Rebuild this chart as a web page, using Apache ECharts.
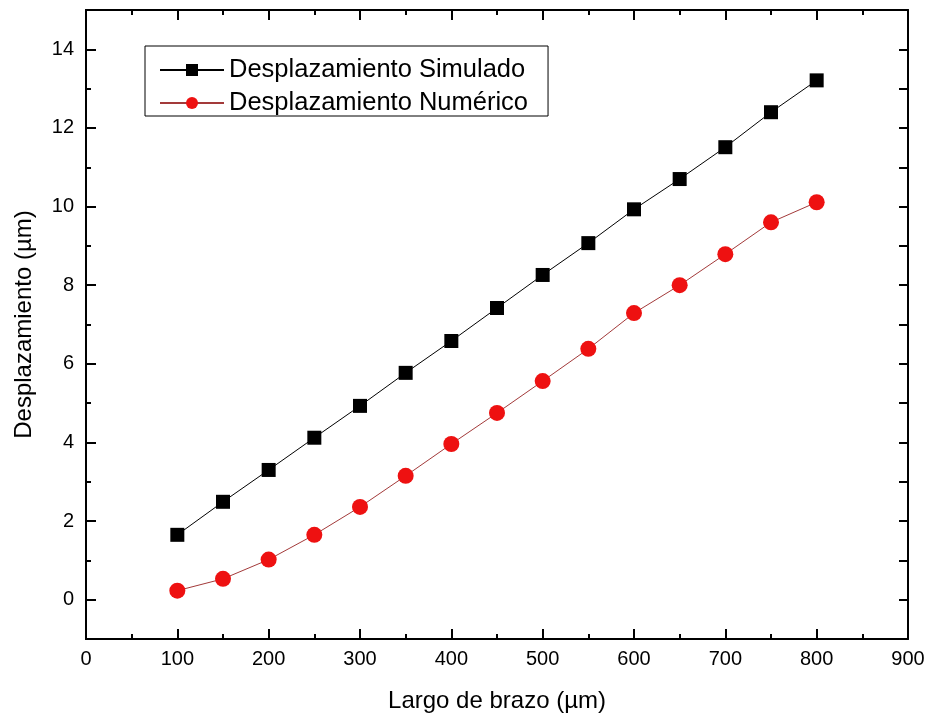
<!DOCTYPE html>
<html><head><meta charset="utf-8">
<script src="https://cdn.jsdelivr.net/npm/echarts@6/dist/echarts.min.js"></script>
<style>html,body{margin:0;padding:0;background:#fff}#c{width:937px;height:717px}</style>
</head><body><div id="c"></div>
<script>
const categories = [100,150,200,250,300,350,400,450,500,550,600,650,700,750,800];
const simulado = [1.65,2.49,3.30,4.12,4.93,5.77,6.58,7.42,8.26,9.07,9.93,10.70,11.51,12.40,13.21];
const numerico = [0.23,0.53,1.02,1.65,2.36,3.15,3.96,4.75,5.56,6.38,7.29,8.00,8.79,9.60,10.11];
const xTicks = [0,100,200,300,400,500,600,700,800,900];
const yTicks = [0,2,4,6,8,10,12,14];
const nameSim = 'Desplazamiento Simulado';
const nameNum = 'Desplazamiento Numérico';
const xTitle = 'Largo de brazo (µm)';
const yTitle = 'Desplazamiento (µm)';

const font = 'Liberation Sans, Arial, sans-serif';
const lineSt = {show:true,onZero:false,lineStyle:{color:'#000',width:2}};
const xCommon = {
  type:'value',min:0,max:900,interval:100,
  axisLine:lineSt,
  axisTick:{show:true,inside:true,length:10,lineStyle:{color:'#000',width:2}},
  minorTick:{show:true,splitNumber:2,length:5,lineStyle:{color:'#000',width:2}},
  splitLine:{show:false}
};
const chart = echarts.init(document.getElementById('c'));
chart.setOption({
  animation:false,
  backgroundColor:'#fff',
  grid:{left:86,right:29,top:10,bottom:78,containLabel:false,outerBoundsMode:'none'},
  legend:{
    orient:'vertical',left:145,top:46,
    borderColor:'#000',borderWidth:1,padding:[11,20,0,14],
    itemWidth:64,itemHeight:15,itemGap:7,
    textStyle:{fontFamily:font,fontSize:25.5,color:'#000'},
    data:[nameSim,nameNum]
  },
  xAxis:[
    Object.assign({},xCommon,{
      name:xTitle,nameLocation:'middle',nameGap:50,
      nameTextStyle:{fontFamily:font,fontSize:24,color:'#000'},
      axisLabel:{fontFamily:font,fontSize:20,color:'#000',margin:10,
        formatter:v=>xTicks.includes(v)?String(v):''}}),
    Object.assign({},xCommon,{position:'top',axisLabel:{show:false}})
  ],
  yAxis:[
    {type:'value',position:'left',min:-1,max:15,interval:1,
      name:yTitle,nameLocation:'middle',nameGap:50,
      nameTextStyle:{fontFamily:font,fontSize:24,color:'#000'},
      axisLine:lineSt,splitLine:{show:false},
      axisTick:{show:true,inside:true,length:10,customValues:yTicks,lineStyle:{color:'#000',width:2}},
      axisLabel:{fontFamily:font,fontSize:20,color:'#000',margin:12,customValues:yTicks}},
    {type:'value',position:'left',min:-1,max:15,interval:1,
      axisLine:lineSt,splitLine:{show:false},
      axisTick:{show:true,inside:true,length:5,lineStyle:{color:'#000',width:2}},
      axisLabel:{show:false}},
    {type:'value',position:'right',min:-1,max:15,interval:1,
      axisLine:lineSt,splitLine:{show:false},
      axisTick:{show:true,inside:true,length:9,lineStyle:{color:'#000',width:2}},
      axisLabel:{show:false}}
  ],
  series:[
    {name:nameSim,type:'line',xAxisIndex:0,yAxisIndex:0,
      data:categories.map((x,i)=>[x,simulado[i]]),
      symbol:'rect',symbolSize:14,
      itemStyle:{color:'#000'},lineStyle:{color:'#000',width:1}},
    {name:nameNum,type:'line',xAxisIndex:0,yAxisIndex:0,
      data:categories.map((x,i)=>[x,numerico[i]]),
      symbol:'circle',symbolSize:16,
      itemStyle:{color:'#ee1111'},lineStyle:{color:'#a33a3a',width:1}}
  ]
});
</script></body></html>
